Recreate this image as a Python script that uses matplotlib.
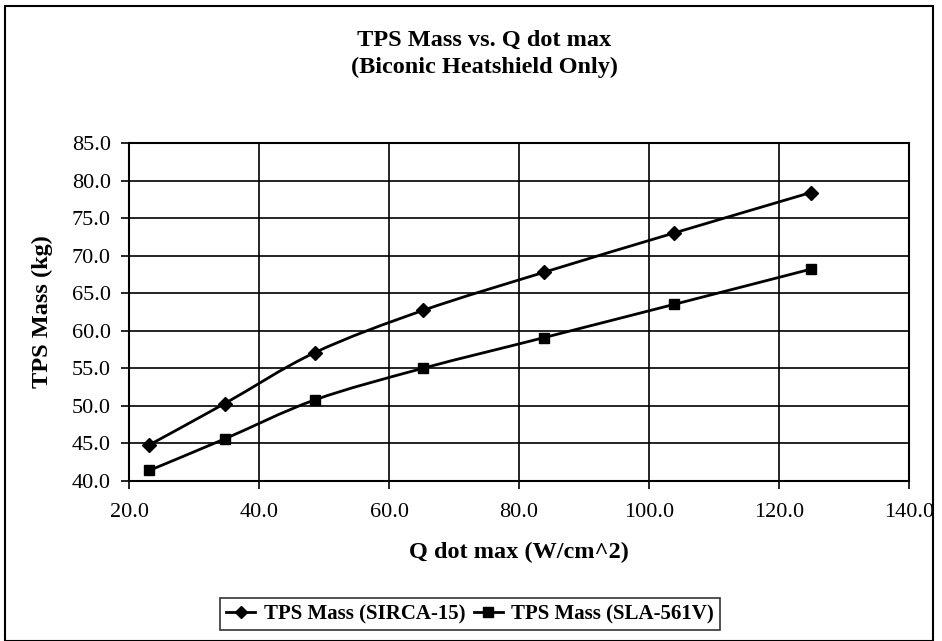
import numpy as np
import matplotlib
matplotlib.use("Agg")
import matplotlib.pyplot as plt
from matplotlib.path import Path
from matplotlib.patches import PathPatch, Rectangle
from matplotlib.lines import Line2D

q_dot_max = [23.1, 34.7, 48.6, 65.2, 83.9, 103.8, 124.9]
mass_sirca = [44.8, 50.3, 57.1, 62.7, 67.8, 73.0, 78.4]
mass_sla = [41.4, 45.6, 50.8, 55.0, 59.1, 63.5, 68.2]

plt.rcParams['font.family'] = ['Liberation Serif', 'DejaVu Serif']


def smooth_path(x, y):
    # Excel-like smoothed line: cubic bezier through every point
    pts = np.column_stack([x, y])
    verts = [pts[0]]
    codes = [Path.MOVETO]
    n = len(pts)
    for i in range(n - 1):
        p0 = pts[i - 1] if i > 0 else pts[i]
        p1 = pts[i]
        p2 = pts[i + 1]
        p3 = pts[i + 2] if i + 2 < n else pts[i + 1]
        c1 = p1 + (p2 - p0) / 6.0
        c2 = p2 - (p3 - p1) / 6.0
        verts += [c1, c2, p2]
        codes += [Path.CURVE4] * 3
    return Path(verts, codes)


fig = plt.figure(figsize=(9.42, 6.41), dpi=100)
ax = fig.add_axes([0.137, 0.2496, 0.828, 0.5274])

for y, mk, ms in [(mass_sirca, 'D', 7), (mass_sla, 's', 7.5)]:
    ax.add_patch(PathPatch(smooth_path(q_dot_max, y), facecolor='none',
                           edgecolor='black', lw=2, zorder=3))
    ax.plot(q_dot_max, y, linestyle='none', marker=mk, ms=ms, color='black', zorder=4)

ax.set_xlim(20, 140)
ax.set_ylim(40, 85)
ax.set_xticks(np.arange(20, 141, 20))
ax.set_yticks(np.arange(40, 86, 5))
ax.set_xticklabels([f"{v:.1f}" for v in np.arange(20, 141, 20)])
ax.set_yticklabels([f"{v:.1f}" for v in np.arange(40, 86, 5)])
ax.tick_params(labelsize=16, direction='out', length=6, width=1.2, color='black')
ax.tick_params(axis='x', pad=10)
ax.tick_params(axis='y', pad=7)
ax.grid(True, color='black', lw=1.2)
ax.set_axisbelow(True)
for s in ax.spines.values():
    s.set_linewidth(1.5)

ax.set_xlabel("Q dot max (W/cm^2)", fontsize=17.5, fontweight='bold', labelpad=14)
ax.set_ylabel("TPS Mass (kg)", fontsize=17.5, fontweight='bold', labelpad=14)

fig.text(0.514, 0.9376, "TPS Mass vs. Q dot max", ha='center', va='center',
         fontsize=17.5, fontweight='bold')
fig.text(0.514, 0.8955, "(Biconic Heatshield Only)", ha='center', va='center',
         fontsize=17.5, fontweight='bold')

handles = [Line2D([], [], color='black', lw=2, marker='D', ms=6),
           Line2D([], [], color='black', lw=2, marker='s', ms=6.5)]
leg = fig.legend(handles, ["TPS Mass (SIRCA-15)", "TPS Mass (SLA-561V)"],
                 loc='center', bbox_to_anchor=(0.499, 0.042), ncol=2,
                 prop={'weight': 'bold', 'size': 15}, frameon=True, fancybox=False,
                 handlelength=1.4, handletextpad=0.4, columnspacing=0.4,
                 borderpad=0.3)
leg.get_frame().set_edgecolor('black')
leg.get_frame().set_linewidth(1.2)

fig.patches.append(Rectangle((0.005, 0.0), 0.985, 0.99, transform=fig.transFigure,
                             fill=False, edgecolor='black', lw=1.5))

fig.savefig("out.png", dpi=100)
